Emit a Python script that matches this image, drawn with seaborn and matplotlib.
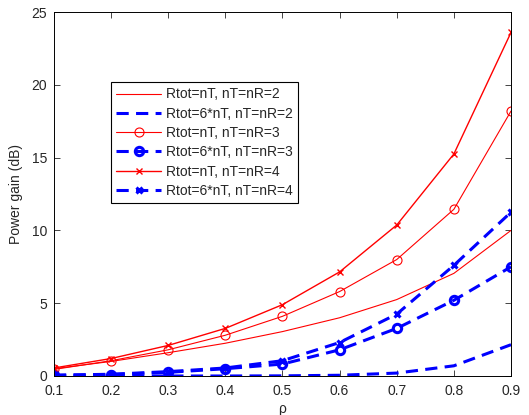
import matplotlib
matplotlib.use("Agg")
import matplotlib.pyplot as plt
import seaborn as sns
import numpy as np

rho = [0.1, 0.2, 0.3, 0.4, 0.5, 0.6, 0.7, 0.8, 0.9]
r_n2 = [0.5, 1.0, 1.6, 2.25, 3.05, 4.0, 5.25, 7.05, 10.0]
b_n2 = [0.0, 0.0, 0.0, 0.0, 0.01, 0.05, 0.2, 0.7, 2.15]
r_n3 = [0.45, 1.05, 1.8, 2.8, 4.1, 5.8, 8.0, 11.45, 18.2]
b_n3 = [0.05, 0.1, 0.25, 0.5, 0.82, 1.8, 3.27, 5.2, 7.5]
r_n4 = [0.55, 1.2, 2.1, 3.27, 4.9, 7.15, 10.37, 15.25, 23.6]
b_n4 = [0.05, 0.12, 0.3, 0.55, 1.05, 2.3, 4.25, 7.6, 11.25]
labels = ["Rtot=nT, nT=nR=2", "Rtot=6*nT, nT=nR=2", "Rtot=nT, nT=nR=3",
          "Rtot=6*nT, nT=nR=3", "Rtot=nT, nT=nR=4", "Rtot=6*nT, nT=nR=4"]
xticks = [0.1, 0.2, 0.3, 0.4, 0.5, 0.6, 0.7, 0.8, 0.9]
yticks = [0, 5, 10, 15, 20, 25]

sns.set_style("ticks")
plt.rcParams['font.family'] = ['Liberation Sans', 'DejaVu Sans']
plt.rcParams['font.size'] = 10

fig = plt.figure(figsize=(5.29, 4.15), dpi=100)
ax = fig.add_axes([0.102, 0.094, 0.864, 0.877])

red = '#ff0000'
blue = '#0000ff'
dash = (0, (4.0, 2.4))
series = [
    (r_n2, red, '-', None, 0.8, {}),
    (b_n2, blue, dash, None, 2.2, {}),
    (r_n3, red, '-', 'o', 0.8, dict(markersize=6.5, markerfacecolor='none', markeredgewidth=0.8)),
    (b_n3, blue, dash, 'o', 2.2, dict(markersize=6, markerfacecolor='none', markeredgewidth=2.2)),
    (r_n4, red, '-', 'x', 1.0, dict(markersize=5, markeredgewidth=1.0)),
    (b_n4, blue, dash, 'x', 2.2, dict(markersize=5, markeredgewidth=2.2)),
]
for (y, c, ls, mk, lw, kw), lab in zip(series, labels):
    sns.lineplot(x=rho, y=y, ax=ax, color=c, linestyle=ls, marker=mk,
                 linewidth=lw, label=lab, markeredgecolor=c, **kw)

ax.set_xlim(0.1, 0.9)
ax.set_ylim(0, 25)
ax.set_xticks(xticks)
ax.set_xticklabels([f"{v:.1f}" for v in xticks])
ax.set_yticks(yticks)
ax.set_xlabel("ρ", labelpad=3)
ax.set_ylabel("Power gain (dB)", labelpad=6)
ax.tick_params(direction='in', top=True, right=True, length=4, width=0.6, labelsize=10)
ax.tick_params(axis='x', pad=6)
ax.tick_params(axis='y', pad=5)
for s in ax.spines.values():
    s.set_linewidth(0.7)
    s.set_visible(True)
    s.set_color('black')

leg = ax.legend(loc='upper left', bbox_to_anchor=(0.1245, 0.808), fontsize=10,
                frameon=True, fancybox=False, framealpha=1, edgecolor='black',
                borderpad=0.4, labelspacing=0.38, handlelength=3.2, handletextpad=0.35,
                borderaxespad=0)
leg.get_frame().set_linewidth(0.8)

fig.savefig("out.png", dpi=100)
